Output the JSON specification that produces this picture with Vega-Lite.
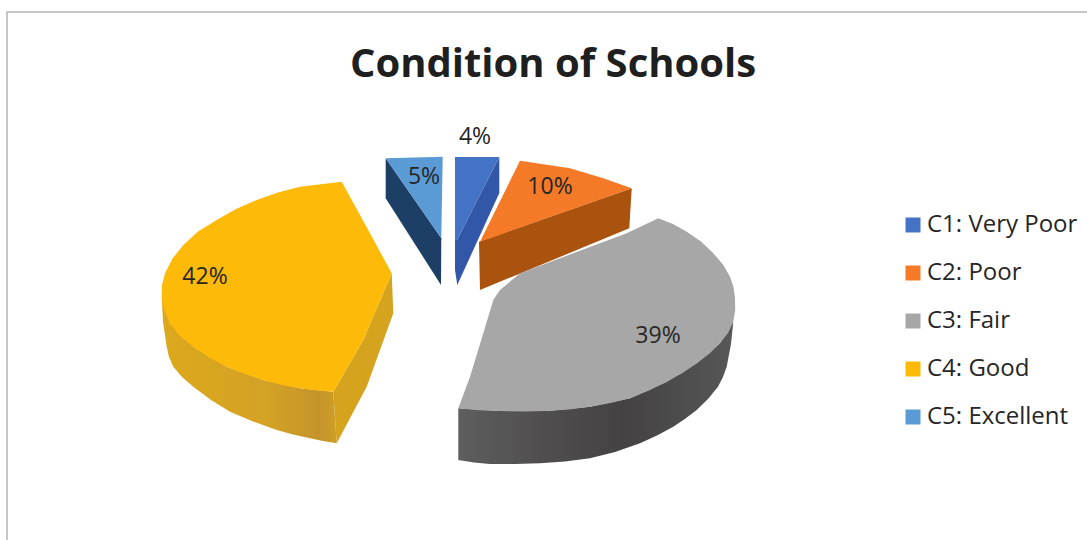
{
  "$schema": "https://vega.github.io/schema/vega-lite/v6.json",
  "autosize": {"type": "none"},
  "padding": {"left": 7, "top": 12, "right": 0, "bottom": 0},
  "width": 1090,
  "height": 540,
  "background": "white",
  "view": {"stroke": "#b5b5b5", "strokeWidth": 1.5, "fill": "white"},
  "title": {
    "text": "Condition of Schools",
    "anchor": "middle",
    "frame": "group",
    "offset": -73,
    "dx": 1,
    "font": "Open Sans",
    "fontSize": 40,
    "fontWeight": "bold",
    "color": "#1f1f1f"
  },
  "datasets": {
    "shares": [
      {"slice": "C1: Very Poor", "share": 0.04, "labelX": 46.8, "labelY": 12.5},
      {"slice": "C2: Poor", "share": 0.10, "labelX": 54.3, "labelY": 17.5},
      {"slice": "C3: Fair", "share": 0.39, "labelX": 65.1, "labelY": 32.4},
      {"slice": "C4: Good", "share": 0.42, "labelX": 19.8, "labelY": 26.5},
      {"slice": "C5: Excellent", "share": 0.05, "labelX": 41.7, "labelY": 16.5}
    ],
    "outlines": [
      {"part": "C4 top", "slice": "C4: Good", "seq": 1, "x": 33.47, "y": 16.97},
      {"part": "C4 top", "slice": "C4: Good", "seq": 2, "x": 29.3, "y": 17.47},
      {"part": "C4 top", "slice": "C4: Good", "seq": 2.5, "x": 27.1, "y": 18.05},
      {"part": "C4 top", "slice": "C4: Good", "seq": 3, "x": 24.97, "y": 18.8},
      {"part": "C4 top", "slice": "C4: Good", "seq": 3.5, "x": 22.9, "y": 19.7},
      {"part": "C4 top", "slice": "C4: Good", "seq": 4, "x": 20.97, "y": 20.8},
      {"part": "C4 top", "slice": "C4: Good", "seq": 4.5, "x": 19.1, "y": 21.95},
      {"part": "C4 top", "slice": "C4: Good", "seq": 5, "x": 17.63, "y": 23.3},
      {"part": "C4 top", "slice": "C4: Good", "seq": 5.5, "x": 16.55, "y": 24.65},
      {"part": "C4 top", "slice": "C4: Good", "seq": 6, "x": 15.8, "y": 26.13},
      {"part": "C4 top", "slice": "C4: Good", "seq": 6.5, "x": 15.5, "y": 27.3},
      {"part": "C4 top", "slice": "C4: Good", "seq": 7, "x": 15.47, "y": 28.47},
      {"part": "C4 top", "slice": "C4: Good", "seq": 7.5, "x": 15.75, "y": 29.85},
      {"part": "C4 top", "slice": "C4: Good", "seq": 8, "x": 16.3, "y": 31.13},
      {"part": "C4 top", "slice": "C4: Good", "seq": 8.5, "x": 17.3, "y": 32.4},
      {"part": "C4 top", "slice": "C4: Good", "seq": 9, "x": 18.63, "y": 33.47},
      {"part": "C4 top", "slice": "C4: Good", "seq": 9.5, "x": 20.2, "y": 34.55},
      {"part": "C4 top", "slice": "C4: Good", "seq": 10, "x": 21.97, "y": 35.47},
      {"part": "C4 top", "slice": "C4: Good", "seq": 10.5, "x": 23.8, "y": 36.2},
      {"part": "C4 top", "slice": "C4: Good", "seq": 11, "x": 25.63, "y": 36.8},
      {"part": "C4 top", "slice": "C4: Good", "seq": 11.5, "x": 27.45, "y": 37.3},
      {"part": "C4 top", "slice": "C4: Good", "seq": 12, "x": 29.3, "y": 37.63},
      {"part": "C4 top", "slice": "C4: Good", "seq": 12.5, "x": 31, "y": 37.85},
      {"part": "C4 top", "slice": "C4: Good", "seq": 13, "x": 32.63, "y": 37.97},
      {"part": "C4 top", "slice": "C4: Good", "seq": 14, "x": 35.63, "y": 32.8},
      {"part": "C4 top", "slice": "C4: Good", "seq": 15, "x": 38.47, "y": 26.13},
      {"part": "C4 top", "slice": "C4: Good", "seq": 16, "x": 36.3, "y": 22.13},

      {"part": "C4 wall", "seq": 1, "x": 15.47, "y": 28.47},
      {"part": "C4 wall", "seq": 2, "x": 16.3, "y": 31.13},
      {"part": "C4 wall", "seq": 3, "x": 18.63, "y": 33.47},
      {"part": "C4 wall", "seq": 4, "x": 21.97, "y": 35.47},
      {"part": "C4 wall", "seq": 5, "x": 25.63, "y": 36.8},
      {"part": "C4 wall", "seq": 6, "x": 29.3, "y": 37.63},
      {"part": "C4 wall", "seq": 7, "x": 32.63, "y": 37.97},
      {"part": "C4 wall", "seq": 8, "x": 32.97, "y": 43.13},
      {"part": "C4 wall", "seq": 8.5, "x": 31.6, "y": 42.9},
      {"part": "C4 wall", "seq": 9, "x": 30.3, "y": 42.63},
      {"part": "C4 wall", "seq": 9.5, "x": 28.6, "y": 42.25},
      {"part": "C4 wall", "seq": 10, "x": 26.97, "y": 41.8},
      {"part": "C4 wall", "seq": 10.5, "x": 24.6, "y": 40.95},
      {"part": "C4 wall", "seq": 11, "x": 22.3, "y": 39.97},
      {"part": "C4 wall", "seq": 11.5, "x": 20.4, "y": 38.8},
      {"part": "C4 wall", "seq": 12, "x": 18.63, "y": 37.47},
      {"part": "C4 wall", "seq": 12.5, "x": 17.5, "y": 36.5},
      {"part": "C4 wall", "seq": 13, "x": 16.63, "y": 35.47},
      {"part": "C4 wall", "seq": 13.5, "x": 16.2, "y": 34.5},
      {"part": "C4 wall", "seq": 14, "x": 15.97, "y": 33.47},
      {"part": "C4 wall", "seq": 15, "x": 15.6, "y": 31},

      {"part": "C4 side", "seq": 1, "x": 32.63, "y": 37.97},
      {"part": "C4 side", "seq": 2, "x": 35.63, "y": 32.8},
      {"part": "C4 side", "seq": 3, "x": 38.47, "y": 26.13},
      {"part": "C4 side", "seq": 4, "x": 38.63, "y": 30.13},
      {"part": "C4 side", "seq": 5, "x": 35.97, "y": 37.47},
      {"part": "C4 side", "seq": 6, "x": 32.97, "y": 43.13},

      {"part": "C5 top", "slice": "C5: Excellent", "seq": 1, "x": 37.87, "y": 14.63},
      {"part": "C5 top", "slice": "C5: Excellent", "seq": 2, "x": 43.57, "y": 14.47},
      {"part": "C5 top", "slice": "C5: Excellent", "seq": 3, "x": 43.43, "y": 22.63},
      {"part": "C5 side", "seq": 1, "x": 37.87, "y": 14.63},
      {"part": "C5 side", "seq": 2, "x": 43.43, "y": 22.63},
      {"part": "C5 side", "seq": 3, "x": 43.4, "y": 27.3},
      {"part": "C5 side", "seq": 4, "x": 37.87, "y": 18.63},

      {"part": "C1 top", "slice": "C1: Very Poor", "seq": 1, "x": 44.8, "y": 14.5},
      {"part": "C1 top", "slice": "C1: Very Poor", "seq": 2, "x": 49.23, "y": 14.5},
      {"part": "C1 top", "slice": "C1: Very Poor", "seq": 3, "x": 45, "y": 22.8},
      {"part": "C1 top", "slice": "C1: Very Poor", "seq": 4, "x": 44.8, "y": 22.8},
      {"part": "C1 side", "seq": 1, "x": 49.23, "y": 14.5},
      {"part": "C1 side", "seq": 2, "x": 49.23, "y": 18.1},
      {"part": "C1 side", "seq": 3, "x": 45.03, "y": 27.3},
      {"part": "C1 side", "seq": 4, "x": 44.8, "y": 25.8},
      {"part": "C1 side", "seq": 5, "x": 44.8, "y": 22.8},
      {"part": "C1 side", "seq": 6, "x": 45, "y": 22.8},

      {"part": "C2 top", "slice": "C2: Poor", "seq": 1, "x": 51.3, "y": 14.87},
      {"part": "C2 top", "slice": "C2: Poor", "seq": 2, "x": 56.3, "y": 15.63},
      {"part": "C2 top", "slice": "C2: Poor", "seq": 3, "x": 59.63, "y": 16.63},
      {"part": "C2 top", "slice": "C2: Poor", "seq": 4, "x": 62.47, "y": 17.63},
      {"part": "C2 top", "slice": "C2: Poor", "seq": 5, "x": 47.3, "y": 22.97},
      {"part": "C2 side", "seq": 1, "x": 62.47, "y": 17.63},
      {"part": "C2 side", "seq": 2, "x": 62.23, "y": 21.63},
      {"part": "C2 side", "seq": 3, "x": 47.3, "y": 27.8},
      {"part": "C2 side", "seq": 4, "x": 47.2, "y": 22.97},

      {"part": "C3 top", "slice": "C3: Fair", "seq": 1, "x": 65.13, "y": 20.63},
      {"part": "C3 top", "slice": "C3: Fair", "seq": 1.5, "x": 66.6, "y": 21.2},
      {"part": "C3 top", "slice": "C3: Fair", "seq": 2, "x": 67.97, "y": 21.97},
      {"part": "C3 top", "slice": "C3: Fair", "seq": 2.5, "x": 69.4, "y": 22.95},
      {"part": "C3 top", "slice": "C3: Fair", "seq": 3, "x": 70.63, "y": 24.13},
      {"part": "C3 top", "slice": "C3: Fair", "seq": 3.5, "x": 71.6, "y": 25.25},
      {"part": "C3 top", "slice": "C3: Fair", "seq": 4, "x": 72.3, "y": 26.47},
      {"part": "C3 top", "slice": "C3: Fair", "seq": 4.5, "x": 72.65, "y": 27.5},
      {"part": "C3 top", "slice": "C3: Fair", "seq": 5, "x": 72.8, "y": 28.63},
      {"part": "C3 top", "slice": "C3: Fair", "seq": 5.5, "x": 72.82, "y": 29.8},
      {"part": "C3 top", "slice": "C3: Fair", "seq": 6, "x": 72.63, "y": 30.97},
      {"part": "C3 top", "slice": "C3: Fair", "seq": 6.5, "x": 72.1, "y": 32.1},
      {"part": "C3 top", "slice": "C3: Fair", "seq": 7, "x": 71.3, "y": 33.13},
      {"part": "C3 top", "slice": "C3: Fair", "seq": 7.5, "x": 70.2, "y": 34.2},
      {"part": "C3 top", "slice": "C3: Fair", "seq": 8, "x": 68.97, "y": 35.13},
      {"part": "C3 top", "slice": "C3: Fair", "seq": 8.5, "x": 67.55, "y": 36.1},
      {"part": "C3 top", "slice": "C3: Fair", "seq": 9, "x": 65.97, "y": 36.97},
      {"part": "C3 top", "slice": "C3: Fair", "seq": 9.5, "x": 64.2, "y": 37.85},
      {"part": "C3 top", "slice": "C3: Fair", "seq": 10, "x": 62.3, "y": 38.63},
      {"part": "C3 top", "slice": "C3: Fair", "seq": 10.5, "x": 60.35, "y": 39.1},
      {"part": "C3 top", "slice": "C3: Fair", "seq": 11, "x": 58.3, "y": 39.47},
      {"part": "C3 top", "slice": "C3: Fair", "seq": 11.5, "x": 56.2, "y": 39.75},
      {"part": "C3 top", "slice": "C3: Fair", "seq": 12, "x": 53.97, "y": 39.9},
      {"part": "C3 top", "slice": "C3: Fair", "seq": 12.5, "x": 51.6, "y": 39.95},
      {"part": "C3 top", "slice": "C3: Fair", "seq": 13, "x": 49.3, "y": 39.9},
      {"part": "C3 top", "slice": "C3: Fair", "seq": 13.5, "x": 47.2, "y": 39.82},
      {"part": "C3 top", "slice": "C3: Fair", "seq": 14, "x": 45.13, "y": 39.63},
      {"part": "C3 top", "slice": "C3: Fair", "seq": 15, "x": 46.3, "y": 36.47},
      {"part": "C3 top", "slice": "C3: Fair", "seq": 16, "x": 47.63, "y": 32.13},
      {"part": "C3 top", "slice": "C3: Fair", "seq": 17, "x": 48.63, "y": 28.8},
      {"part": "C3 top", "slice": "C3: Fair", "seq": 18, "x": 49.3, "y": 27.8},
      {"part": "C3 top", "slice": "C3: Fair", "seq": 19, "x": 51.3, "y": 26.13},
      {"part": "C3 top", "slice": "C3: Fair", "seq": 20, "x": 56.63, "y": 24.13},
      {"part": "C3 top", "slice": "C3: Fair", "seq": 21, "x": 61.97, "y": 22.13},

      {"part": "C3 wall", "seq": 1, "x": 45.13, "y": 39.63},
      {"part": "C3 wall", "seq": 2, "x": 49.3, "y": 39.9},
      {"part": "C3 wall", "seq": 3, "x": 53.97, "y": 39.9},
      {"part": "C3 wall", "seq": 4, "x": 58.3, "y": 39.47},
      {"part": "C3 wall", "seq": 5, "x": 62.3, "y": 38.63},
      {"part": "C3 wall", "seq": 6, "x": 65.97, "y": 36.97},
      {"part": "C3 wall", "seq": 7, "x": 68.97, "y": 35.13},
      {"part": "C3 wall", "seq": 8, "x": 71.3, "y": 33.13},
      {"part": "C3 wall", "seq": 9, "x": 72.63, "y": 30.97},
      {"part": "C3 wall", "seq": 9.5, "x": 72.4, "y": 33.2},
      {"part": "C3 wall", "seq": 10, "x": 71.97, "y": 35.47},
      {"part": "C3 wall", "seq": 10.5, "x": 71.6, "y": 36.5},
      {"part": "C3 wall", "seq": 11, "x": 71.1, "y": 37.47},
      {"part": "C3 wall", "seq": 11.5, "x": 70.1, "y": 38.7},
      {"part": "C3 wall", "seq": 12, "x": 68.97, "y": 39.8},
      {"part": "C3 wall", "seq": 12.5, "x": 67.85, "y": 40.65},
      {"part": "C3 wall", "seq": 13, "x": 66.63, "y": 41.47},
      {"part": "C3 wall", "seq": 13.5, "x": 65, "y": 42.35},
      {"part": "C3 wall", "seq": 14, "x": 63.3, "y": 43.13},
      {"part": "C3 wall", "seq": 14.5, "x": 60.8, "y": 44},
      {"part": "C3 wall", "seq": 15, "x": 58.3, "y": 44.63},
      {"part": "C3 wall", "seq": 15.5, "x": 55.8, "y": 44.95},
      {"part": "C3 wall", "seq": 16, "x": 53.3, "y": 45.13},
      {"part": "C3 wall", "seq": 16.5, "x": 50.8, "y": 45.2},
      {"part": "C3 wall", "seq": 17, "x": 48.3, "y": 45.2},
      {"part": "C3 wall", "seq": 17.5, "x": 46.7, "y": 45.05},
      {"part": "C3 wall", "seq": 18, "x": 45.13, "y": 44.8}
    ]
  },
  "data": {"name": "outlines"},
  "encoding": {
    "x": {"field": "x", "type": "quantitative", "axis": null, "scale": {"domain": [0, 109], "nice": false, "zero": false}},
    "y": {"field": "y", "type": "quantitative", "axis": null, "scale": {"domain": [54, 0], "nice": false, "zero": false}},
    "order": {"field": "seq", "type": "quantitative"}
  },
  "layer": [
    {
      "transform": [{"filter": "indexof(datum.part, 'side') >= 0"}],
      "mark": {"type": "line", "strokeWidth": 0, "interpolate": "linear"},
      "encoding": {
        "fill": {
          "field": "part",
          "type": "nominal",
          "legend": null,
          "scale": {
            "domain": ["C1 side", "C2 side", "C4 side", "C5 side"],
            "range": ["#3256a8", "#a9530f", "#d6a31f", "#1d3f66"]
          }
        }
      }
    },
    {
      "transform": [{"filter": "datum.part === 'C4 wall'"}],
      "mark": {
        "type": "line",
        "strokeWidth": 0,
        "fill": {
          "gradient": "linear", "x1": 0, "x2": 1, "y1": 0, "y2": 0,
          "stops": [
            {"offset": 0, "color": "#dca81c"},
            {"offset": 0.6, "color": "#d4a225"},
            {"offset": 0.9, "color": "#c4942c"},
            {"offset": 1, "color": "#cf9f24"}
          ]
        }
      },
      "encoding": {"detail": {"field": "part"}}
    },
    {
      "transform": [{"filter": "datum.part === 'C3 wall'"}],
      "mark": {
        "type": "line",
        "strokeWidth": 0,
        "fill": {
          "gradient": "linear", "x1": 0, "x2": 1, "y1": 0, "y2": 0,
          "stops": [
            {"offset": 0, "color": "#5e5e5e"},
            {"offset": 0.35, "color": "#4e4c4c"},
            {"offset": 0.6, "color": "#444242"},
            {"offset": 1, "color": "#575757"}
          ]
        }
      },
      "encoding": {"detail": {"field": "part"}}
    },
    {
      "transform": [{"filter": "isValid(datum.slice)"}],
      "mark": {"type": "line", "strokeWidth": 0},
      "encoding": {
        "fill": {
          "field": "slice",
          "type": "nominal",
          "scale": {
            "domain": ["C1: Very Poor", "C2: Poor", "C3: Fair", "C4: Good", "C5: Excellent"],
            "range": ["#4472c4", "#f47a28", "#a8a7a7", "#fdba08", "#5b9bd5"]
          },
          "legend": {
            "title": null,
            "orient": "none",
            "legendX": 894,
            "legendY": 201,
            "symbolType": "square",
            "symbolSize": 225,
            "symbolStrokeWidth": 0,
            "labelFont": "Open Sans",
            "labelFontSize": 24,
            "labelColor": "#262626",
            "labelOffset": 2,
            "rowPadding": 24,
            "labelLimit": 240
          }
        }
      }
    },
    {
      "data": {"name": "shares"},
      "mark": {"type": "text", "font": "Open Sans", "fontSize": 23, "color": "#262626", "align": "center", "baseline": "middle"},
      "encoding": {
        "x": {"field": "labelX", "type": "quantitative"},
        "y": {"field": "labelY", "type": "quantitative"},
        "order": {"value": null},
        "text": {"field": "share", "type": "quantitative", "format": ".0%"}
      }
    }
  ],
  "resolve": {"scale": {"fill": "independent"}}
}
